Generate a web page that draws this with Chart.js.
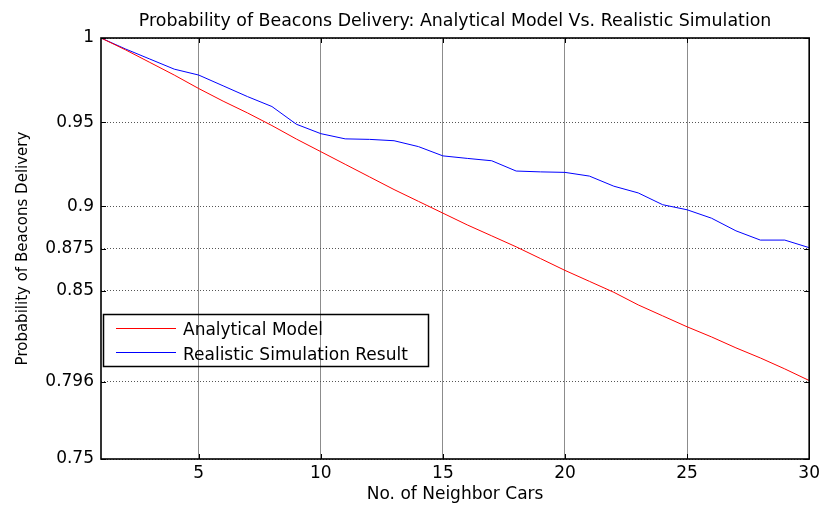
<!DOCTYPE html>
<html>
<head>
<meta charset="utf-8">
<script src="https://cdn.jsdelivr.net/npm/chart.js@4/dist/chart.umd.min.js"></script>
<style>
  html, body { margin: 0; padding: 0; background: #ffffff; }
  #wrap { width: 824px; height: 505px; }
</style>
</head>
<body>
<div id="wrap"><canvas id="c" width="824" height="505"></canvas></div>
<script>
// ---- data ----
const neighborCars = [1, 2, 3, 4, 5, 6, 7, 8, 9, 10, 11, 12, 13, 14, 15, 16, 17, 18, 19, 20, 21, 22, 23, 24, 25, 26, 27, 28, 29, 30];
const analyticalModel = [1.000, 0.993, 0.9855, 0.978, 0.970, 0.9625, 0.9555, 0.948, 0.940, 0.9325,
  0.925, 0.9175, 0.910, 0.903, 0.896, 0.889, 0.8825, 0.876, 0.869, 0.862,
  0.8555, 0.849, 0.8415, 0.835, 0.8285, 0.8225, 0.816, 0.810, 0.8035, 0.7966];
const realisticSimulation = [1.000, 0.9935, 0.9875, 0.9815, 0.978, 0.9716, 0.9652, 0.9593, 0.9488, 0.9432,
  0.9401, 0.9398, 0.939, 0.9355, 0.930, 0.9285, 0.9271, 0.921, 0.9205, 0.9202,
  0.918, 0.912, 0.908, 0.901, 0.898, 0.893, 0.8855, 0.880, 0.880, 0.8755];
const seriesNames = ['Analytical Model', 'Realistic Simulation Result'];
const xTickValues = [5, 10, 15, 20, 25, 30];
const yTickValues = [0.75, 0.796, 0.85, 0.875, 0.9, 0.95, 1];
const yTickLabels = ['0.75', '0.796', '0.85', '0.875', '0.9', '0.95', '1'];
const chartTitle = 'Probability of Beacons Delivery: Analytical Model Vs. Realistic Simulation';
const xTitle = 'No. of Neighbor Cars';
const yTitle = 'Probability of Beacons Delivery';

const FONT = 'DejaVu Sans';

function toPoints(xs, ys) { return xs.map((x, i) => ({ x: x, y: ys[i] })); }

// title, frame, inner tick marks and legend (MATLAB style)
const matlabDecor = {
  id: 'matlabDecor',
  afterDatasetsDraw(chart) {
    const ctx = chart.ctx;
    const a = chart.chartArea;
    const xs = chart.scales.x, ys = chart.scales.y;
    ctx.save();
    // inner tick marks
    ctx.strokeStyle = '#000';
    ctx.lineWidth = 1;
    ctx.beginPath();
    xs.ticks.forEach(t => {
      const px = Math.round(xs.getPixelForValue(t.value)) + 0.5;
      ctx.moveTo(px, a.bottom); ctx.lineTo(px, a.bottom - 5);
      ctx.moveTo(px, a.top); ctx.lineTo(px, a.top + 5);
    });
    ys.ticks.forEach(t => {
      const py = Math.round(ys.getPixelForValue(t.value)) + 0.5;
      ctx.moveTo(a.left, py); ctx.lineTo(a.left + 5, py);
      ctx.moveTo(a.right, py); ctx.lineTo(a.right - 5, py);
    });
    ctx.stroke();
    // frame
    ctx.lineWidth = 1.6;
    ctx.strokeRect(a.left, a.top, a.right - a.left, a.bottom - a.top);

    // legend (transparent box, grid shows through)
    const lx = 103.5, ly = 314.5, lw = 325, lh = 52;
    ctx.lineWidth = 1.5;
    ctx.strokeRect(lx, ly, lw, lh);
    ctx.font = '17px "' + FONT + '"';
    ctx.textAlign = 'left';
    ctx.textBaseline = 'alphabetic';
    chart.data.datasets.forEach((ds, i) => {
      const yLine = 328 + i * 24;
      ctx.strokeStyle = ds.borderColor;
      ctx.lineWidth = 1;
      ctx.beginPath();
      ctx.moveTo(116, yLine + 0.5); ctx.lineTo(176, yLine + 0.5);
      ctx.stroke();
      ctx.fillStyle = '#000';
      ctx.fillText(ds.label, 183, 335 + i * 25);
    });

    // chart title
    ctx.font = '17.4px "' + FONT + '"';
    ctx.textAlign = 'center';
    ctx.fillStyle = '#000';
    ctx.fillText(chartTitle, (a.left + a.right) / 2, 26);
    ctx.restore();
  }
};

new Chart(document.getElementById('c'), {
  type: 'line',
  data: {
    datasets: [
      {
        label: seriesNames[0],
        data: toPoints(neighborCars, analyticalModel),
        borderColor: '#ff0000',
        backgroundColor: '#ff0000',
        borderWidth: 1,
        pointRadius: 0,
        tension: 0
      },
      {
        label: seriesNames[1],
        data: toPoints(neighborCars, realisticSimulation),
        borderColor: '#0000ff',
        backgroundColor: '#0000ff',
        borderWidth: 1,
        pointRadius: 0,
        tension: 0
      }
    ]
  },
  options: {
    responsive: false,
    animation: false,
    devicePixelRatio: 1,
    layout: { padding: { left: 0, right: 13, top: 38, bottom: 0 } },
    plugins: {
      legend: { display: false },
      title: { display: false },
      tooltip: { enabled: false }
    },
    scales: {
      x: {
        type: 'linear',
        min: 1,
        max: 30,
        afterBuildTicks(scale) { scale.ticks = xTickValues.map(v => ({ value: v })); },
        afterFit(scale) { scale.height = 46; },
        ticks: {
          color: '#000',
          font: { family: FONT, size: 17 },
          padding: 4,
          maxRotation: 0,
          autoSkip: false,
          callback: (v) => String(v)
        },
        grid: { color: '#8c8c8c', lineWidth: 1, drawTicks: false },
        border: { display: false },
        title: {
          display: true,
          text: xTitle,
          color: '#000',
          font: { family: FONT, size: 17 },
          padding: { top: 0, bottom: 0 }
        }
      },
      y: {
        type: 'linear',
        min: 0.75,
        max: 1,
        afterBuildTicks(scale) { scale.ticks = yTickValues.map(v => ({ value: v })); },
        afterFit(scale) { scale.width = 101; },
        ticks: {
          color: '#000',
          font: { family: FONT, size: 17 },
          padding: 7,
          autoSkip: false,
          callback: (v) => {
            const i = yTickValues.indexOf(v);
            return i >= 0 ? yTickLabels[i] : '';
          }
        },
        grid: { color: '#555555', lineWidth: 1, drawTicks: false },
        border: { display: false, dash: [1, 2] },
        title: {
          display: true,
          text: yTitle,
          color: '#000',
          font: { family: FONT, size: 15 },
          padding: { top: 14, bottom: 0 }
        }
      }
    }
  },
  plugins: [matlabDecor]
});
</script>
</body>
</html>
